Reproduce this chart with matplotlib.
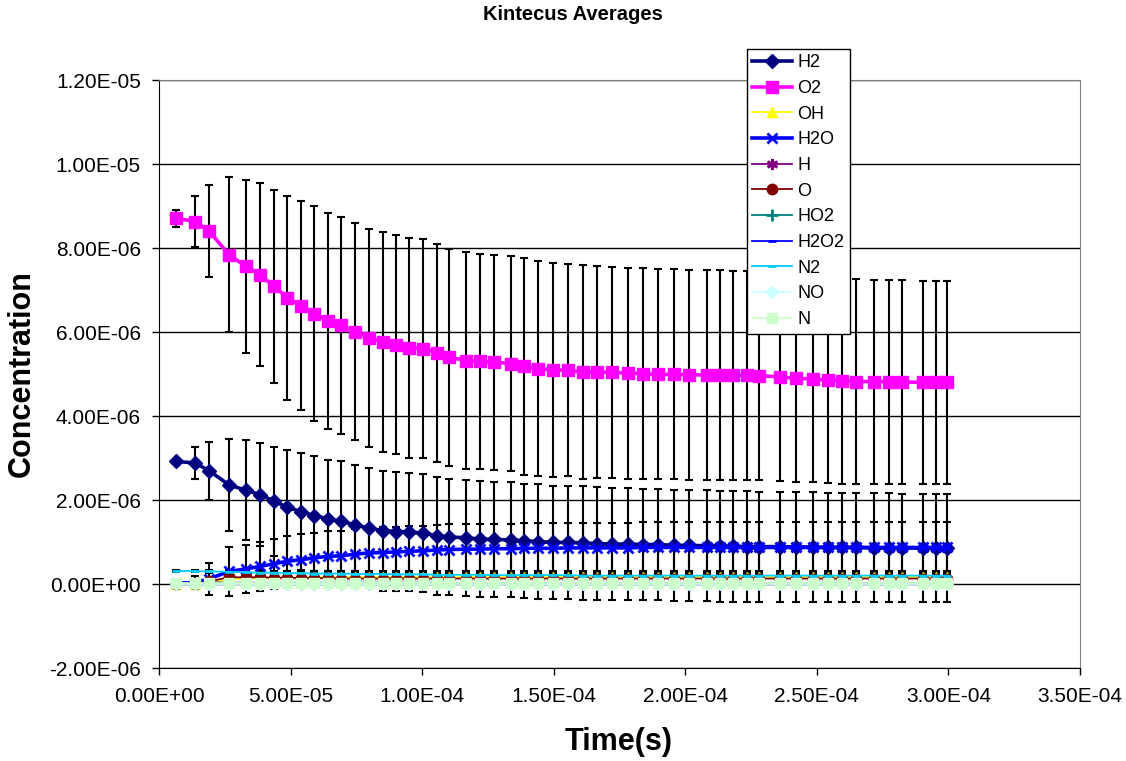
# Kintecus averages - species concentration vs time, with std-dev error bars
import numpy as np
import matplotlib
matplotlib.use('Agg')
import matplotlib.pyplot as plt
from matplotlib.ticker import MultipleLocator, FuncFormatter

plt.rcParams['font.family'] = ['Liberation Sans', 'DejaVu Sans']

# %% data (time in microseconds, concentrations in 1e-6 units)
time_us = [6.5, 13.7, 19.0, 26.6, 33.1, 38.4, 43.7, 48.7, 54.0, 58.9,
           64.3, 69.2, 74.5, 79.8, 85.2, 90.1, 95.1, 100.4, 105.7, 110.3,
           116.7, 122.1, 127.4, 133.8, 138.8, 144.1, 149.8, 155.5, 161.2, 166.5,
           172.2, 178.3, 184.0, 189.7, 195.8, 201.5, 208.4, 213.3, 218.3, 223.6,
           228.1, 236.1, 242.2, 248.7, 254.4, 259.7, 265.0, 271.9, 277.6, 282.5,
           290.5, 295.1, 299.6]

h2 = [2.92, 2.88, 2.70, 2.36, 2.23, 2.13, 1.97, 1.83, 1.72, 1.63,
      1.55, 1.49, 1.41, 1.33, 1.27, 1.25, 1.24, 1.21, 1.15, 1.12,
      1.10, 1.07, 1.06, 1.05, 1.03, 1.01, 0.99, 0.99, 0.98, 0.96,
      0.95, 0.95, 0.94, 0.94, 0.92, 0.92, 0.91, 0.90, 0.90, 0.89,
      0.89, 0.89, 0.88, 0.88, 0.87, 0.87, 0.87, 0.86, 0.86, 0.86,
      0.85, 0.85, 0.85]
h2_err = [0.05, 0.38, 0.69, 1.10, 1.19, 1.22, 1.30, 1.35, 1.39, 1.41,
          1.41, 1.43, 1.43, 1.43, 1.43, 1.42, 1.40, 1.40, 1.40, 1.39,
          1.38, 1.38, 1.37, 1.37, 1.36, 1.36, 1.35, 1.35, 1.35, 1.34,
          1.34, 1.34, 1.33, 1.33, 1.33, 1.33, 1.32, 1.32, 1.32, 1.32,
          1.31, 1.31, 1.31, 1.31, 1.30, 1.30, 1.30, 1.30, 1.30, 1.29,
          1.29, 1.29, 1.29]

o2 = [8.71, 8.63, 8.41, 7.84, 7.56, 7.36, 7.09, 6.82, 6.63, 6.44,
      6.27, 6.16, 6.01, 5.86, 5.76, 5.70, 5.63, 5.60, 5.50, 5.40,
      5.32, 5.30, 5.28, 5.25, 5.18, 5.13, 5.10, 5.09, 5.05, 5.04,
      5.04, 5.02, 5.01, 4.99, 4.99, 4.98, 4.98, 4.97, 4.97, 4.97,
      4.96, 4.93, 4.90, 4.88, 4.86, 4.83, 4.82, 4.82, 4.82, 4.81,
      4.80, 4.80, 4.80]
o2_err = [0.20, 0.60, 1.09, 1.84, 2.06, 2.18, 2.30, 2.43, 2.49, 2.55,
          2.57, 2.58, 2.59, 2.59, 2.61, 2.60, 2.62, 2.61, 2.60, 2.58,
          2.58, 2.56, 2.56, 2.57, 2.58, 2.56, 2.55, 2.53, 2.54, 2.52,
          2.51, 2.51, 2.51, 2.50, 2.50, 2.50, 2.50, 2.50, 2.49, 2.49,
          2.48, 2.47, 2.46, 2.46, 2.45, 2.44, 2.44, 2.43, 2.43, 2.43,
          2.42, 2.42, 2.42]

oh = [0.00, 0.01, 0.04, 0.10, 0.13, 0.14, 0.15, 0.15, 0.16, 0.16,
      0.16, 0.16, 0.16, 0.16, 0.16, 0.16, 0.16, 0.16, 0.16, 0.16,
      0.16, 0.16, 0.16, 0.16, 0.16, 0.16, 0.16, 0.16, 0.16, 0.16,
      0.16, 0.16, 0.16, 0.16, 0.16, 0.16, 0.16, 0.16, 0.16, 0.16,
      0.16, 0.16, 0.16, 0.16, 0.16, 0.16, 0.16, 0.16, 0.16, 0.16,
      0.16, 0.16, 0.16]
oh_err = [0.01, 0.03, 0.06, 0.09, 0.10, 0.10, 0.10, 0.10, 0.10, 0.10,
          0.10, 0.10, 0.10, 0.10, 0.10, 0.10, 0.10, 0.10, 0.10, 0.10,
          0.10, 0.10, 0.10, 0.10, 0.10, 0.10, 0.10, 0.10, 0.10, 0.10,
          0.10, 0.10, 0.10, 0.10, 0.10, 0.10, 0.10, 0.10, 0.10, 0.10,
          0.10, 0.10, 0.10, 0.10, 0.10, 0.10, 0.10, 0.10, 0.10, 0.10,
          0.10, 0.10, 0.10]

h2o = [0.02, 0.03, 0.12, 0.30, 0.36, 0.42, 0.48, 0.54, 0.58, 0.62,
       0.66, 0.67, 0.71, 0.74, 0.75, 0.76, 0.78, 0.79, 0.81, 0.82,
       0.83, 0.83, 0.84, 0.84, 0.85, 0.85, 0.85, 0.86, 0.86, 0.86,
       0.86, 0.86, 0.87, 0.87, 0.87, 0.87, 0.87, 0.87, 0.87, 0.87,
       0.87, 0.87, 0.87, 0.87, 0.87, 0.87, 0.87, 0.87, 0.87, 0.87,
       0.87, 0.87, 0.87]
h2o_err = [0.05, 0.15, 0.37, 0.58, 0.58, 0.58, 0.60, 0.60, 0.60, 0.60,
           0.60, 0.60, 0.60, 0.60, 0.60, 0.60, 0.60, 0.60, 0.60, 0.60,
           0.60, 0.60, 0.60, 0.60, 0.60, 0.60, 0.60, 0.60, 0.60, 0.60,
           0.60, 0.60, 0.60, 0.60, 0.60, 0.60, 0.60, 0.60, 0.60, 0.60,
           0.60, 0.60, 0.60, 0.60, 0.60, 0.60, 0.60, 0.60, 0.60, 0.60,
           0.60, 0.60, 0.60]

h = [0.00, 0.00, 0.01, 0.02, 0.02, 0.01, 0.01, 0.01, 0.01, 0.01,
     0.01, 0.01, 0.01, 0.01, 0.01, 0.01, 0.01, 0.01, 0.01, 0.01,
     0.01, 0.01, 0.01, 0.01, 0.01, 0.01, 0.01, 0.01, 0.01, 0.01,
     0.01, 0.01, 0.01, 0.01, 0.01, 0.01, 0.01, 0.01, 0.01, 0.01,
     0.01, 0.01, 0.01, 0.01, 0.01, 0.01, 0.01, 0.01, 0.01, 0.01,
     0.01, 0.01, 0.01]

o = [0.00, 0.01, 0.06, 0.16, 0.16, 0.16, 0.15, 0.15, 0.14, 0.14,
     0.14, 0.13, 0.13, 0.13, 0.13, 0.13, 0.13, 0.13, 0.13, 0.13,
     0.13, 0.13, 0.13, 0.13, 0.13, 0.13, 0.13, 0.13, 0.13, 0.13,
     0.13, 0.13, 0.13, 0.13, 0.13, 0.13, 0.13, 0.13, 0.13, 0.13,
     0.13, 0.13, 0.13, 0.13, 0.13, 0.13, 0.13, 0.13, 0.13, 0.13,
     0.13, 0.13, 0.13]
o_err = [0.01, 0.05, 0.10, 0.16, 0.17, 0.17, 0.17, 0.17, 0.17, 0.17,
         0.17, 0.17, 0.17, 0.17, 0.17, 0.17, 0.17, 0.17, 0.17, 0.17,
         0.17, 0.17, 0.17, 0.17, 0.17, 0.17, 0.17, 0.17, 0.17, 0.17,
         0.17, 0.17, 0.17, 0.17, 0.17, 0.17, 0.17, 0.17, 0.17, 0.17,
         0.17, 0.17, 0.17, 0.17, 0.17, 0.17, 0.17, 0.17, 0.17, 0.17,
         0.17, 0.17, 0.17]

ho2 = [0.00, 0.00, 0.00, 0.01, 0.01, 0.01, 0.01, 0.01, 0.01, 0.01,
       0.01, 0.01, 0.01, 0.01, 0.01, 0.01, 0.01, 0.01, 0.01, 0.01,
       0.01, 0.01, 0.01, 0.01, 0.01, 0.01, 0.01, 0.01, 0.01, 0.01,
       0.01, 0.01, 0.01, 0.01, 0.01, 0.01, 0.01, 0.01, 0.01, 0.01,
       0.01, 0.01, 0.01, 0.01, 0.01, 0.01, 0.01, 0.01, 0.01, 0.01,
       0.01, 0.01, 0.01]

h2o2 = [0.04, 0.04, 0.04, 0.03, 0.03, 0.03, 0.03, 0.03, 0.03, 0.03,
        0.03, 0.03, 0.03, 0.03, 0.03, 0.03, 0.03, 0.03, 0.03, 0.03,
        0.02, 0.02, 0.02, 0.02, 0.02, 0.02, 0.02, 0.02, 0.02, 0.02,
        0.02, 0.02, 0.02, 0.02, 0.02, 0.02, 0.02, 0.02, 0.02, 0.02,
        0.02, 0.02, 0.02, 0.02, 0.02, 0.02, 0.02, 0.02, 0.02, 0.02,
        0.02, 0.02, 0.02]

n2 = [0.31, 0.31, 0.30, 0.29, 0.28, 0.27, 0.27, 0.26, 0.26, 0.25,
      0.25, 0.25, 0.24, 0.24, 0.24, 0.23, 0.23, 0.23, 0.22, 0.22,
      0.22, 0.22, 0.21, 0.21, 0.21, 0.21, 0.21, 0.21, 0.20, 0.20,
      0.20, 0.20, 0.20, 0.20, 0.20, 0.20, 0.20, 0.20, 0.20, 0.20,
      0.20, 0.20, 0.20, 0.20, 0.20, 0.20, 0.20, 0.20, 0.20, 0.20,
      0.20, 0.20, 0.20]
n2_err = [0.03, 0.03, 0.04, 0.05, 0.05, 0.05, 0.05, 0.05, 0.05, 0.05,
          0.05, 0.05, 0.05, 0.05, 0.05, 0.05, 0.05, 0.05, 0.05, 0.05,
          0.05, 0.05, 0.05, 0.05, 0.05, 0.05, 0.05, 0.05, 0.05, 0.05,
          0.05, 0.05, 0.05, 0.05, 0.05, 0.05, 0.05, 0.05, 0.05, 0.05,
          0.05, 0.05, 0.05, 0.05, 0.05, 0.05, 0.05, 0.05, 0.05, 0.05,
          0.05, 0.05, 0.05]

no = [0.00, 0.00, 0.00, 0.00, 0.00, 0.00, 0.00, 0.00, 0.00, 0.00,
      0.00, 0.00, 0.00, 0.00, 0.00, 0.00, 0.00, 0.00, 0.00, 0.00,
      0.00, 0.00, 0.00, 0.00, 0.00, 0.00, 0.00, 0.00, 0.00, 0.00,
      0.00, 0.00, 0.00, 0.00, 0.00, 0.00, 0.00, 0.00, 0.00, 0.00,
      0.00, 0.00, 0.00, 0.00, 0.00, 0.00, 0.00, 0.00, 0.00, 0.00,
      0.00, 0.00, 0.00]

n = [0.02, 0.02, 0.02, 0.02, 0.02, 0.02, 0.02, 0.02, 0.02, 0.02,
     0.02, 0.02, 0.02, 0.02, 0.02, 0.02, 0.02, 0.02, 0.02, 0.02,
     0.02, 0.02, 0.02, 0.02, 0.02, 0.02, 0.02, 0.02, 0.02, 0.02,
     0.02, 0.02, 0.02, 0.02, 0.02, 0.02, 0.02, 0.02, 0.02, 0.02,
     0.02, 0.02, 0.02, 0.02, 0.02, 0.02, 0.02, 0.02, 0.02, 0.02,
     0.02, 0.02, 0.02]

# %% series styling (Excel defaults)
series = [
    ('H2',   h2,   h2_err,  '#000080', 'D', 7.5, 2.6),
    ('O2',   o2,   o2_err,  '#FF00FF', 's', 9,   2.6),
    ('OH',   oh,   oh_err,  '#FFFF00', '^', 7,   1.3),
    ('H2O',  h2o,  h2o_err, '#0000FF', 'x', 7.5, 2.6),
    ('H',    h,    None,    '#800080', (6, 2, 0), 8, 1.3),
    ('O',    o,    o_err,   '#800000', 'o', 7.5, 1.3),
    ('HO2',  ho2,  None,    '#008080', '+', 8,   1.3),
    ('H2O2', h2o2, None,    '#0000FF', '_', 6,   1.3),
    ('N2',   n2,   n2_err,  '#00CCFF', '_', 6,   1.3),
    ('NO',   no,   None,    '#CCFFFF', 'D', 6.5, 1.3),
    ('N',    n,    None,    '#CCFFCC', 's', 7.5, 1.3),
]

t = np.array(time_us) * 1e-6

fig = plt.figure(figsize=(11.26, 7.61), dpi=100)
ax = fig.add_axes([159 / 1126, 1 - 668 / 761, (1080 - 159) / 1126, (668 - 80) / 761])

# error bars underneath
for name, vals, err, col, mk, ms, lw in series:
    if err is None:
        continue
    ax.errorbar(t, np.array(vals) * 1e-6, yerr=np.array(err) * 1e-6, fmt='none',
                ecolor='black', elinewidth=1.5, capsize=3.2, capthick=1.5, zorder=2)

handles = []
for name, vals, err, col, mk, ms, lw in series:
    mew = 2 if mk in ('x', '+', '_', (6, 2, 0)) else 1
    line, = ax.plot(t, np.array(vals) * 1e-6, color=col, lw=lw, marker=mk,
                    markersize=ms, markerfacecolor=col, markeredgecolor=col,
                    markeredgewidth=mew, label=name, zorder=3)
    handles.append(line)

ax.set_xlim(0, 3.5e-4)
ax.set_ylim(-2e-6, 1.2e-5)
ax.xaxis.set_major_locator(MultipleLocator(5e-5))
ax.yaxis.set_major_locator(MultipleLocator(2e-6))
sci = FuncFormatter(lambda v, p: f"{v:.2E}")
ax.xaxis.set_major_formatter(sci)
ax.yaxis.set_major_formatter(sci)
ax.tick_params(direction='out', length=5, width=1, labelsize=15, color='black')
ax.tick_params(axis='x', pad=9)
ax.tick_params(axis='y', pad=8)

ax.yaxis.grid(True, color='black', lw=1)
ax.set_axisbelow(True)
ax.spines['top'].set_color('#808080')
ax.spines['right'].set_color('#808080')

fig.text(573 / 1126, 1 - 15 / 761, 'Kintecus Averages', ha='center', va='center',
         fontsize=14.5, fontweight='bold')
fig.text(619 / 1126, 1 - 742 / 761, 'Time(s)', ha='center', va='center',
         fontsize=22, fontweight='bold')
fig.text(22 / 1126, 1 - 374 / 761, 'Concentration', ha='center', va='center',
         rotation=90, fontsize=22, fontweight='bold')

leg = fig.legend(handles=handles, loc='upper left',
                 bbox_to_anchor=(747 / 1126, 1 - 49 / 761),
                 fontsize=13, frameon=True, fancybox=False, framealpha=1,
                 edgecolor='black', handlelength=2.2, handletextpad=0.3,
                 labelspacing=0.48, borderpad=0.3, borderaxespad=0)
leg.get_frame().set_linewidth(1)

plt.savefig('out.png', dpi=100)
